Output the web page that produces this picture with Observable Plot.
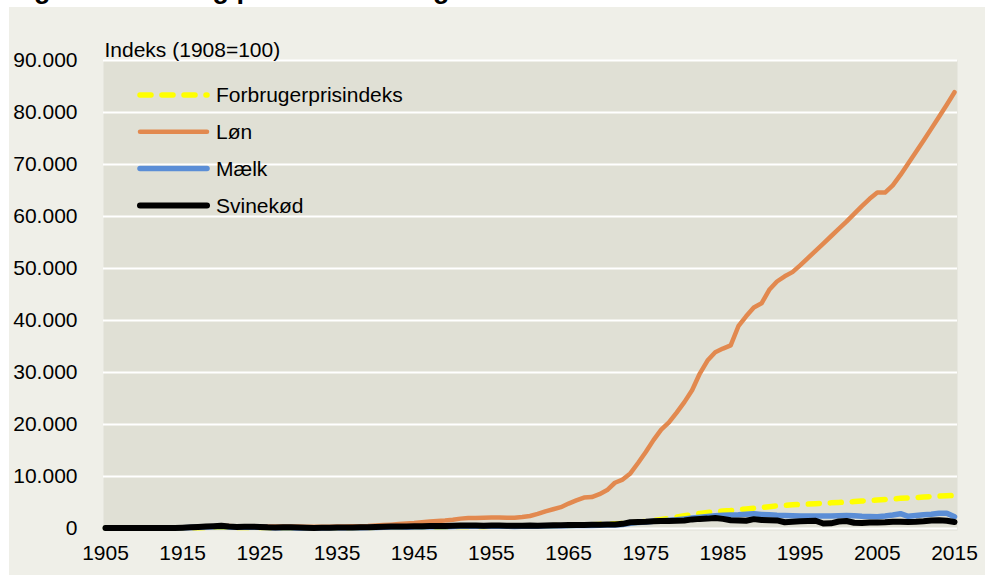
<!DOCTYPE html>
<html>
<head>
<meta charset="utf-8">
<script src="https://cdn.jsdelivr.net/npm/d3@7"></script>
<script src="https://cdn.jsdelivr.net/npm/@observablehq/plot@0.6"></script>
<style>
  html, body { margin: 0; padding: 0; background: #ffffff; }
  body { width: 985px; height: 575px; position: relative; overflow: hidden; font-family: "Liberation Sans", Arial, sans-serif; }
  #titlewrap { position: absolute; left: 0; top: 0; width: 985px; height: 7px; overflow: hidden; }
  #title { position: absolute; left: 10px; top: -25px; font-weight: bold; font-size: 27px; line-height: 28px; white-space: nowrap; color: #000; }
  #panel { position: absolute; left: 9px; top: 7px; width: 976px; height: 568px; background: #efefe8; }
  #legend { position: absolute; left: 0; top: 0; }
</style>
</head>
<body>
<div id="titlewrap"><div id="title">Figur 1.1: Løn og priser i landbruget</div></div>
<div id="panel"></div>
<script>
// ---------- data (index, 1908 = 100) ----------
const years = d3.range(1905, 2016);

const forbrugerprisindeks = [
  97, 98, 100, 100, 100, 101, 103, 106, 107, 109,
  125, 140, 160, 185, 210, 240, 215, 185, 185, 195,
  195, 170, 160, 160, 158, 152, 145, 145, 148, 153,
  158, 162, 170, 172, 178, 220, 260, 275, 280, 285,
  290, 290, 300, 310, 315, 340, 380, 395, 390, 395,
  415, 435, 445, 450, 455, 465, 480, 515, 545, 565,
  600, 640, 690, 745, 790, 850, 910, 980, 1080, 1220,
  1350, 1550, 1750, 1950, 2200, 2450, 2700, 2900, 3100, 3250,
  3350, 3450, 3600, 3750, 3900, 4050, 4200, 4350, 4450, 4550,
  4620, 4700, 4780, 4850, 4930, 5000, 5080, 5180, 5280, 5380,
  5480, 5580, 5680, 5800, 5880, 5950, 6050, 6150, 6220, 6300,
  6350
];

const lon = [
  95, 97, 99, 100, 102, 104, 107, 110, 114, 118,
  130, 160, 210, 290, 400, 500, 470, 400, 390, 420,
  440, 410, 390, 385, 385, 380, 360, 340, 340, 350,
  370, 390, 420, 450, 480, 560, 650, 740, 850, 950,
  1050, 1200, 1350, 1450, 1550, 1700, 1900, 2000, 2000, 2050,
  2100, 2100, 2050, 2050, 2200, 2400, 2800, 3300, 3700, 4100,
  4800, 5400, 5950, 6050, 6600, 7400, 8800, 9400, 10600, 12600,
  14700, 17000, 19000, 20400, 22300, 24300, 26600, 29800, 32300, 33900,
  34600, 35200, 38900, 40800, 42500, 43300, 45900, 47500, 48500, 49300,
  50600, 52000, 53400, 54800, 56200, 57600, 59000, 60500, 62000, 63400,
  64600, 64600, 66000, 68000, 70200, 72400, 74600, 76900, 79200, 81500,
  83900
];

const maelk = [
  95, 97, 98, 100, 100, 102, 104, 106, 108, 110,
  140, 170, 220, 280, 330, 380, 300, 230, 220, 230,
  220, 180, 160, 160, 150, 120, 100, 95, 110, 120,
  140, 150, 160, 165, 170, 210, 260, 280, 290, 290,
  300, 310, 330, 350, 360, 380, 420, 440, 420, 410,
  420, 430, 420, 400, 410, 420, 430, 460, 490, 520,
  540, 560, 580, 600, 620, 650, 680, 750, 1000, 1150,
  1250, 1380, 1500, 1600, 1700, 1850, 2000, 2150, 2300, 2450,
  2550, 2600, 2650, 2750, 2850, 2700, 2650, 2550, 2500, 2450,
  2400, 2400, 2380, 2380, 2400, 2450, 2480, 2450, 2350, 2300,
  2250, 2400, 2600, 2850, 2350, 2500, 2650, 2750, 2950, 2950,
  2250
];

const svinekod = [
  90, 100, 105, 100, 105, 110, 105, 110, 115, 115,
  160, 220, 300, 380, 450, 520, 380, 300, 320, 330,
  300, 230, 200, 220, 230, 180, 130, 110, 140, 150,
  180, 200, 210, 220, 230, 300, 350, 380, 400, 400,
  410, 430, 460, 480, 500, 520, 560, 570, 560, 540,
  560, 570, 540, 530, 540, 560, 540, 580, 620, 640,
  680, 680, 670, 700, 740, 760, 780, 900, 1200, 1250,
  1300, 1400, 1450, 1450, 1500, 1550, 1750, 1850, 1900, 2000,
  1850, 1600, 1550, 1500, 1800, 1650, 1600, 1550, 1200, 1300,
  1400, 1450, 1500, 950, 1000, 1350, 1450, 1100, 1050, 1150,
  1150, 1200, 1300, 1300, 1250, 1300, 1400, 1550, 1600, 1500,
  1250
];

const seriesNames = ["Forbrugerprisindeks", "Løn", "Mælk", "Svinekød"];
const seriesValues = [forbrugerprisindeks, lon, maelk, svinekod];
const seriesColors = ["#ffff00", "#e2894f", "#5b8ed6", "#000000"];
const seriesWidths = [5.5, 4.5, 5.5, 6];
const seriesDash = ["11,11", null, null, null];

const xTicks = [1905, 1915, 1925, 1935, 1945, 1955, 1965, 1975, 1985, 1995, 2005, 2015];
const yTicks = [0, 10000, 20000, 30000, 40000, 50000, 60000, 70000, 80000, 90000];
const yLabel = "Indeks (1908=100)";

// ---------- build ----------
const daFmt = d3.formatLocale({decimal: ",", thousands: ".", grouping: [3], currency: ["", " kr."]}).format(",");

const rows = seriesNames.map((name, s) =>
  years.map((yr, i) => ({series: name, year: yr, value: seriesValues[s][i]}))
);

const lineMarks = rows.map((data, s) =>
  Plot.line(data, {
    x: "year", y: "value",
    stroke: seriesColors[s],
    strokeWidth: seriesWidths[s],
    strokeDasharray: seriesDash[s] || undefined,
    strokeLinecap: "round",
    strokeLinejoin: "round"
  })
);

const chart = Plot.plot({
  width: 976,
  height: 568,
  marginLeft: 94,
  marginRight: 28,
  marginTop: 53,
  marginBottom: 45,
  insetLeft: 2,
  insetRight: 3,
  insetBottom: 2,
  style: {background: "transparent", fontFamily: "'Liberation Sans', Arial, sans-serif", fontSize: "21px", color: "#000", overflow: "visible"},
  x: {domain: [1905, 2015], ticks: xTicks, tickFormat: d => String(d), tickSize: 0, tickPadding: 15, label: null},
  y: {domain: [0, 90000], ticks: yTicks, tickFormat: daFmt, tickSize: 0, tickPadding: 26, label: null},
  marks: [
    Plot.frame({fill: "#e0e0d5", stroke: null}),
    Plot.gridY(yTicks, {stroke: "#ffffff", strokeOpacity: 1, strokeWidth: 2}),
    ...lineMarks,
    Plot.text([yLabel], {frameAnchor: "top-left", textAnchor: "start", dx: 1, dy: -18, fontSize: 21, fill: "#000"})
  ]
});

const panel = document.getElementById("panel");
panel.appendChild(chart);

// ---------- legend (inside plot area, top-left) ----------
const leg = d3.select(panel).append("svg")
  .attr("id", "legend")
  .attr("width", 400).attr("height", 230)
  .style("font-family", "'Liberation Sans', Arial, sans-serif")
  .style("font-size", "21px");

seriesNames.forEach((name, s) => {
  const cy = 88 + s * 36.8;
  leg.append("line")
    .attr("x1", 131).attr("x2", 198)
    .attr("y1", cy).attr("y2", cy)
    .attr("stroke", seriesColors[s])
    .attr("stroke-width", seriesWidths[s])
    .attr("stroke-linecap", "round")
    .attr("stroke-dasharray", seriesDash[s]);
  leg.append("text")
    .attr("x", 207).attr("y", cy)
    .attr("dy", "0.35em")
    .attr("fill", "#000")
    .text(name);
});
</script>
</body>
</html>
